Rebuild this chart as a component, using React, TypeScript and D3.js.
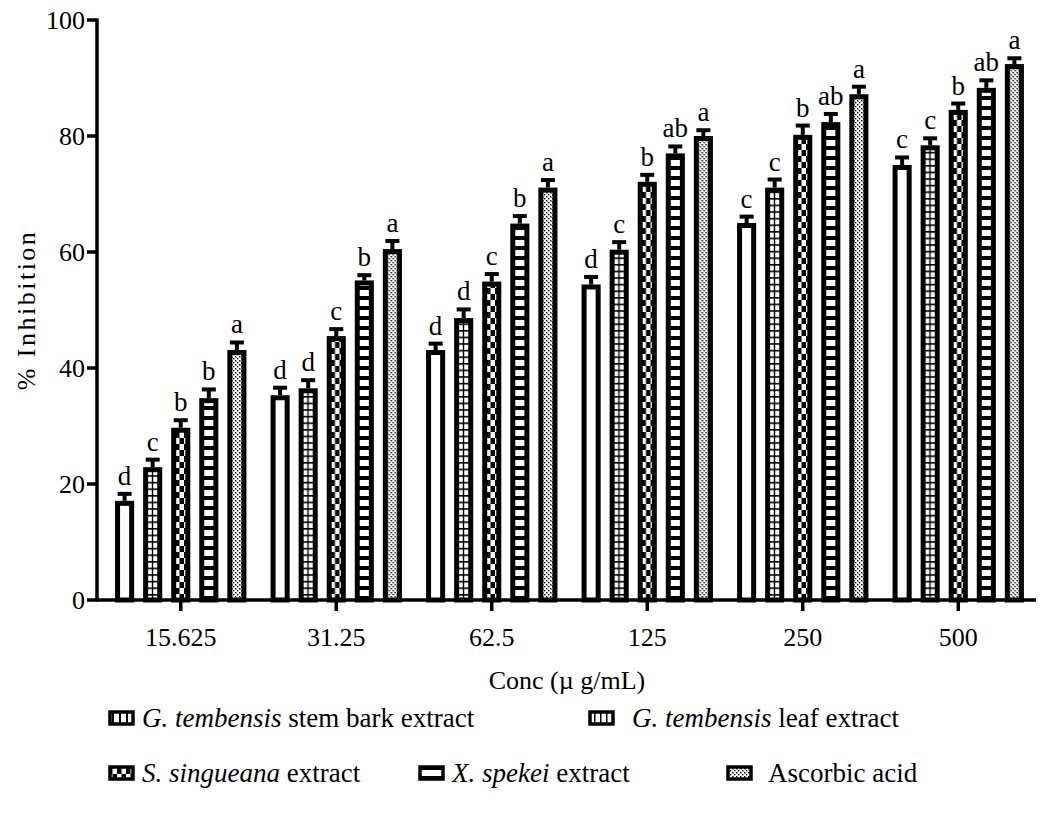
import * as d3 from 'd3';
import React from 'react';

// concentrations on the x axis
const concentrations = ['15.625', '31.25', '62.5', '125', '250', '500'];

const seriesLabels = [
  ['G. tembensis', ' stem bark extract'],
  ['G. tembensis', ' leaf extract'],
  ['S. singueana', ' extract'],
  ['X. spekei', ' extract'],
  ['', 'Ascorbic acid'],
];

// % inhibition
const stemBark = [17.1, 35.3, 43.1, 54.4, 65.0, 75.0];
const leaf = [22.9, 36.5, 48.6, 60.4, 71.1, 78.4];
const singueana = [29.7, 45.5, 54.9, 72.1, 80.2, 84.5];
const spekei = [34.8, 55.1, 64.9, 77.0, 82.4, 88.3];
const ascorbic = [43.1, 60.5, 71.1, 80.0, 87.2, 92.4];

// error (SEM) values
const stemBarkErr = [1.2, 1.3, 1.1, 1.3, 1.1, 1.3];
const leafErr = [1.3, 1.4, 1.5, 1.3, 1.4, 1.2];
const singueanaErr = [1.3, 1.2, 1.3, 1.2, 1.6, 1.1];
const spekeiErr = [1.5, 0.9, 1.3, 1.2, 1.4, 1.3];
const ascorbicErr = [1.3, 1.4, 1.3, 1.0, 1.3, 1.0];

// significance letters
const stemBarkLetters = ['d', 'd', 'd', 'd', 'c', 'c'];
const leafLetters = ['c', 'd', 'd', 'c', 'c', 'c'];
const singueanaLetters = ['b', 'c', 'c', 'b', 'b', 'b'];
const spekeiLetters = ['b', 'b', 'b', 'ab', 'ab', 'ab'];
const ascorbicLetters = ['a', 'a', 'a', 'a', 'a', 'a'];

const yTicks = [0, 20, 40, 60, 80, 100];

const values = [stemBark, leaf, singueana, spekei, ascorbic];
const errors = [stemBarkErr, leafErr, singueanaErr, spekeiErr, ascorbicErr];
const letters = [stemBarkLetters, leafLetters, singueanaLetters, spekeiLetters, ascorbicLetters];
const patternIds = ['pStem', 'pLeaf', 'pSing', 'pSpek', 'pAsc'];
const legendPatternIds = ['lStem', 'lLeaf', 'pSing', 'pSpek', 'pAsc'];

const FONT = '"Liberation Serif", "Times New Roman", serif';
const FS = 26;

export default function App() {
  const width = 1041, height = 819;
  const axisX = 97, axisY = 600;

  const x = d3.scaleBand().domain(concentrations).range([103, 1036]);
  const inner = d3.scaleBand<number>()
    .domain(d3.range(5))
    .range([0, x.bandwidth()])
    .paddingInner(0.32)
    .paddingOuter(0.43);
  const y = d3.scaleLinear().domain([0, 100]).range([axisY, 20]);

  const sw = 5; // bar outline
  const barW = inner.bandwidth() - sw;

  return (
    <div style={{ position: 'absolute', left: 0, top: 0 }}>
      <svg width={width} height={height} style={{ display: 'block', background: '#fff' }} fontFamily={FONT}>
        <defs>
          <pattern id="pStem" patternUnits="userSpaceOnUse" width={8} height={8}>
            <rect width={8} height={8} fill="#fff" />
          </pattern>
          <pattern id="pLeaf" patternUnits="userSpaceOnUse" width={9} height={6.6}>
            <rect width={9} height={6.6} fill="#fff" />
            <rect x={0} y={0} width={9} height={1.6} fill="#000" />
            <rect x={3.8} y={0} width={1.4} height={6.6} fill="#000" />
          </pattern>
          <pattern id="pSing" patternUnits="userSpaceOnUse" width={9} height={12}>
            <rect width={9} height={12} fill="#fff" />
            <rect x={0} y={0} width={4.5} height={6} fill="#000" />
            <rect x={4.5} y={6} width={4.5} height={6} fill="#000" />
          </pattern>
          <pattern id="pSpek" patternUnits="userSpaceOnUse" width={9} height={10}>
            <rect width={9} height={10} fill="#000" />
            <rect x={0} y={0} width={9} height={6} fill="#fff" />
          </pattern>
          <pattern id="pAsc" patternUnits="userSpaceOnUse" width={4} height={4}>
            <rect width={4} height={4} fill="#fff" />
            <rect x={0} y={0} width={1.4} height={1.4} fill="#000" />
            <rect x={2} y={2} width={1.4} height={1.4} fill="#000" />
            <rect x={1} y={1} width={0.8} height={0.8} fill="#777" />
          </pattern>
          <pattern id="lStem" patternUnits="userSpaceOnUse" width={7} height={8}>
            <rect width={7} height={8} fill="#fff" />
            <rect x={0} y={0} width={2} height={8} fill="#000" />
          </pattern>
          <pattern id="lLeaf" patternUnits="userSpaceOnUse" width={6} height={8}>
            <rect width={6} height={8} fill="#fff" />
            <rect x={0} y={0} width={1.5} height={8} fill="#000" />
          </pattern>
        </defs>

        {/* bars */}
        {concentrations.map((c, gi) => (
          <g key={c} transform={`translate(${x(c)},0)`}>
            {values.map((series, si) => {
              const v = series[gi];
              const e = errors[si][gi];
              const bx = (inner(si) as number) + sw / 2;
              const cx = bx + barW / 2;
              return (
                <g key={si}>
                  <rect x={bx} y={y(v) + sw / 2} width={barW} height={axisY - y(v) - sw / 2}
                    fill={`url(#${patternIds[si]})`} stroke="#000" strokeWidth={sw} />
                  <line x1={cx} x2={cx} y1={y(v)} y2={y(v + e)} stroke="#000" strokeWidth={4} />
                  <line x1={cx - 7} x2={cx + 7} y1={y(v + e)} y2={y(v + e)} stroke="#000" strokeWidth={4} />
                  <text x={cx} y={y(v + e) - 9} textAnchor="middle" fontSize={27}>{letters[si][gi]}</text>
                </g>
              );
            })}
          </g>
        ))}

        {/* y axis */}
        <line x1={axisX} x2={axisX} y1={y(100) - 1.5} y2={axisY + 1.5} stroke="#000" strokeWidth={3.5} />
        {yTicks.map(t => (
          <g key={t}>
            <line x1={axisX - 10} x2={axisX} y1={y(t)} y2={y(t)} stroke="#000" strokeWidth={3.5} />
            <text x={axisX - 12} y={y(t)} dy="0.35em" textAnchor="end" fontSize={FS}>{t}</text>
          </g>
        ))}
        <text transform={`translate(35,${y(50)}) rotate(-90)`} textAnchor="middle" fontSize={FS} letterSpacing={2.5}>% Inhibition</text>

        {/* x axis */}
        <line x1={axisX} x2={1036} y1={axisY} y2={axisY} stroke="#000" strokeWidth={3.5} />
        {concentrations.map(c => {
          const cx = (x(c) as number) + x.bandwidth() / 2;
          return (
            <g key={c}>
              <line x1={cx} x2={cx} y1={axisY} y2={axisY + 11} stroke="#000" strokeWidth={3.5} />
              <text x={cx} y={axisY + 46} textAnchor="middle" fontSize={FS}>{c}</text>
            </g>
          );
        })}
        <text x={567} y={689} textAnchor="middle" fontSize={FS}>Conc (µ g/mL)</text>

        {/* legend */}
        {[
          { i: 0, lx: 110, ly: 718 },
          { i: 1, lx: 590, ly: 718 },
          { i: 2, lx: 110, ly: 773 },
          { i: 3, lx: 420, ly: 773 },
          { i: 4, lx: 728, ly: 773 },
        ].map(({ i, lx, ly }) => (
          <g key={i}>
            <rect x={lx} y={ly - 6} width={23} height={12} fill={`url(#${legendPatternIds[i]})`} stroke="#000" strokeWidth={3.5} />
            <text x={lx + (i === 4 ? 40 : i === 1 ? 42 : 32)} y={ly} dy="0.35em" fontSize={27}>
              {seriesLabels[i][0] && <tspan fontStyle="italic">{seriesLabels[i][0]}</tspan>}
              <tspan>{seriesLabels[i][1]}</tspan>
            </text>
          </g>
        ))}
      </svg>
    </div>
  );
}
